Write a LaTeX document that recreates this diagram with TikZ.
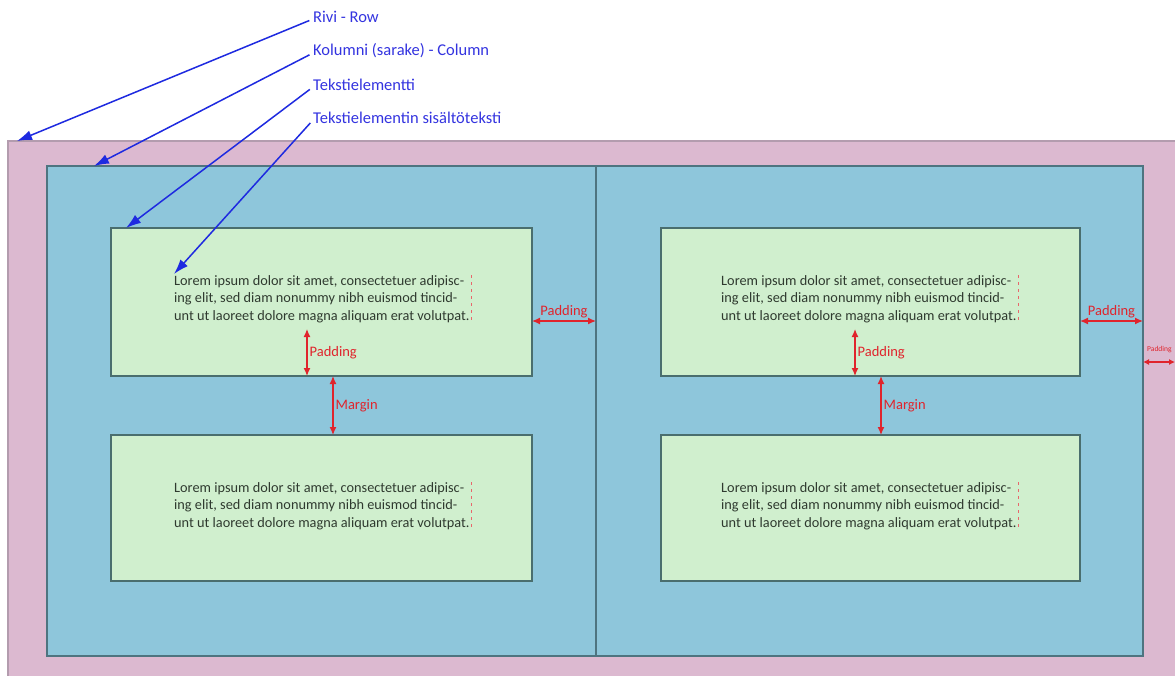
\documentclass[tikz,border=0pt]{standalone}
\usepackage{fontspec}
\setmainfont{Carlito}
\usetikzlibrary{arrows.meta}
\definecolor{rowpink}{HTML}{DCB9D0}
\definecolor{rowline}{HTML}{B39CAE}
\definecolor{colblue}{HTML}{8EC6DB}
\definecolor{colline}{HTML}{4E7480}
\definecolor{boxgreen}{HTML}{D0EFCE}
\definecolor{boxline}{HTML}{4A6E6E}
\definecolor{lblblue}{HTML}{3434E0}
\definecolor{arrblue}{HTML}{1E2AE0}
\definecolor{mred}{HTML}{E0242C}
\definecolor{bodytext}{HTML}{2F3A2F}
\tikzset{
  area/.style={rectangle, anchor=north west, inner sep=0pt, outer sep=0pt},
  rowbox/.style={area, fill=rowpink, draw=rowline, line width=1.2pt},
  colbox/.style={area, fill=colblue, draw=colline, line width=1.2pt},
  textbox/.style={area, fill=boxgreen, draw=boxline, line width=1.3pt},
  lorem/.style={anchor=north west, inner sep=0pt, align=left, text=bodytext,
    font=\fontsize{14.3}{17.5}\selectfont},
  bluelabel/.style={anchor=west, inner sep=0pt, text=lblblue, font=\fontsize{16.5}{18}\selectfont},
  bluearrow/.style={draw=arrblue, line width=1.5pt, -{Latex[length=15pt,width=10pt]}, shorten <=4pt},
  redarrow/.style={draw=mred, line width=1.3pt, {Latex[length=8pt,width=7pt]}-{Latex[length=8pt,width=7pt]}},
  redlabel/.style={text=mred, inner sep=2pt, font=\fontsize{14.5}{16}\selectfont},
  textframe/.style={draw=mred!70, line width=0.6pt, dash pattern=on 3pt off 4pt}
}
\newcommand{\loremtext}{Lorem ipsum dolor sit amet, consectetuer adipisc-\\ing elit, sed diam nonummy nibh euismod tincid-\\unt ut laoreet dolore magna aliquam erat volutpat.}
\begin{document}
\begin{tikzpicture}[x=1pt,y=-1pt]
\useasboundingbox (0,0) rectangle (1175,675);
\clip (0,0) rectangle (1175,675);
\fill[white] (0,0) rectangle (1175,675);

% row
\node[rowbox, minimum width=1200pt, minimum height=560pt] (row) at (8,141) {};
% columns
\node[colbox, minimum width=549pt, minimum height=490pt] (colL) at (47,166) {};
\node[colbox, minimum width=547pt, minimum height=490pt] (colR) at (596,166) {};

% text elements
\node[textbox, minimum width=421pt, minimum height=148pt] (tL1) at (111,228) {};
\node[textbox, minimum width=421pt, minimum height=146pt] (tL2) at (111,435) {};
\node[textbox, minimum width=419pt, minimum height=148pt] (tR1) at (661,228) {};
\node[textbox, minimum width=419pt, minimum height=146pt] (tR2) at (661,435) {};

% contents
\node[lorem] (cL1) at (174,275) {\loremtext};
\node[lorem] (cL2) at (174,482) {\loremtext};
\node[lorem] (cR1) at (721,275) {\loremtext};
\node[lorem] (cR2) at (721,482) {\loremtext};
\foreach \c in {cL1,cL2,cR1,cR2}{
  \draw[textframe] ([xshift=2pt]\c.north east) -- ([xshift=2pt]\c.south east);
}

% red measures, left column
\coordinate (pvL) at (307,329);
\draw[redarrow] (pvL) -- (pvL |- tL1.south) node[midway, redlabel, right] {Padding};
\coordinate (mvL) at (333,0);
\draw[redarrow] (mvL |- tL1.south) -- (mvL |- tL2.north) node[midway, redlabel, right] {Margin};
\coordinate (phL) at (0,321);
\draw[redarrow] (phL -| tL1.east) -- (phL -| colL.east) node[midway, redlabel, above] {Padding};

% red measures, right column
\coordinate (pvR) at (855,329);
\draw[redarrow] (pvR) -- (pvR |- tR1.south) node[midway, redlabel, right] {Padding};
\coordinate (mvR) at (881,0);
\draw[redarrow] (mvR |- tR1.south) -- (mvR |- tR2.north) node[midway, redlabel, right] {Margin};
\coordinate (phR) at (0,321);
\draw[redarrow] (phR -| tR1.east) -- (phR -| colR.east) node[midway, redlabel, above] {Padding};

% row padding (cut at the edge)
\coordinate (prw) at (0,362);
\coordinate (prEnd) at (1175,362);
\draw[draw=mred, line width=1.1pt, {Latex[length=6pt,width=6pt]}-{Latex[length=6pt,width=6pt]}]
  (prw -| colR.east) -- (prEnd);
\node[text=mred, anchor=south west, inner sep=0pt, font=\fontsize{7.5}{8}\selectfont] (prlbl) at (1147,353) {Padding};

% blue callouts
\node[bluelabel] (lrow) at (313,17) {Rivi - Row};
\node[bluelabel] (lcol) at (313,51) {Kolumni (sarake) - Column};
\node[bluelabel] (lel) at (313,85) {Tekstielementti};
\node[bluelabel] (lcon) at (313,118) {Tekstielementin sisältöteksti};
\coordinate (tiprow) at (17,141);
\coordinate (tipcol) at (94,166);
\coordinate (tipel) at (126,228);
\coordinate (tipcon) at (174,274);
\draw[bluearrow] ([yshift=-2pt]lrow.west) -- (tiprow);
\draw[bluearrow] ([yshift=-2pt]lcol.west) -- (tipcol);
\draw[bluearrow] ([yshift=-2pt]lel.west) -- (tipel);
\draw[bluearrow] ([yshift=-2pt]lcon.west) -- (tipcon);
\end{tikzpicture}
\end{document}
